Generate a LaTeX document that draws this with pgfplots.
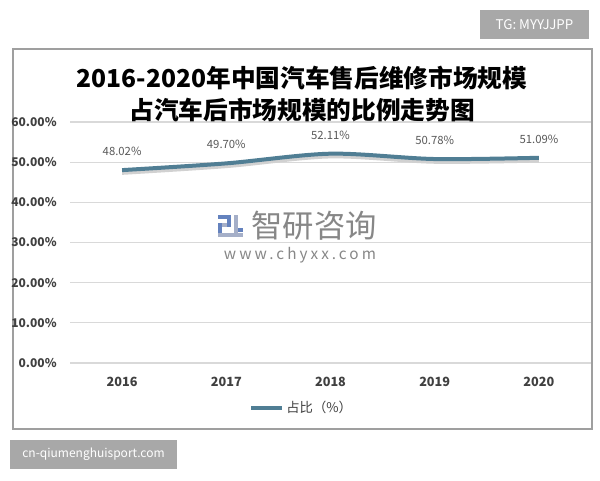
\documentclass[border=0pt]{standalone}
\usepackage{fontspec}
\setmainfont{Noto Sans CJK SC}
\usepackage{pgfplots}
\pgfplotsset{compat=1.18}
\definecolor{linec}{RGB}{80,126,148}
\definecolor{gridc}{RGB}{217,217,217}
\definecolor{tickc}{RGB}{64,64,64}
\definecolor{labc}{RGB}{89,89,89}
\definecolor{boxg}{RGB}{168,168,168}
\definecolor{wmg}{RGB}{135,135,135}
\definecolor{logob}{RGB}{100,130,190}
\definecolor{logog}{RGB}{165,175,200}
\begin{document}
\begin{tikzpicture}[x=0.75pt,y=0.75pt]
\path[use as bounding box] (0,0) rectangle (600,480);
\fill[white] (0,0) rectangle (600,480);
\draw[gray!75, line width=0.9pt] (13,431) rectangle (592,51);
% top-right box
\fill[boxg] (480,470) rectangle (589,441);
\node[white, font=\fontsize{10}{12}\selectfont] at (534.5,455.5) {TG: MYYJJPP};
% bottom-left box
\fill[boxg] (10,40) rectangle (177,11);
\node[white, font=\fontsize{9}{11}\selectfont] at (93.5,25.5) {cn-qiumenghuisport.com};
% watermark
\fill[logob] (218,265) rectangle (231,261);
\fill[logob] (227,261) rectangle (231,253);
\fill[logob] (218,257) rectangle (222,243);
\fill[logog] (222,257) rectangle (227,253);
\fill[logog] (234,265) rectangle (238,243);
\fill[logob] (238,252) rectangle (243,248);
\fill[logog] (218,247) rectangle (243,243);
\node[wmg, font=\fontsize{23.5}{26}\selectfont] at (314,254) {智研咨询};
\node[wmg, font=\fontsize{11.5}{13}\selectfont\addfontfeatures{LetterSpace=20}] at (300,225) {www.chyxx.com};
\begin{axis}[
  at={(52.5pt,268.5pt)}, anchor=north west, scale only axis,
  width=390.75pt, height=180.75pt,
  xmin=-0.5, xmax=4.5, ymin=0, ymax=60,
  axis line style={draw=none}, tick style={draw=none},
  ymajorgrids, grid style={draw=gridc, line width=0.8pt},
  ytick={0,10,20,30,40,50,60},
  yticklabel={\pgfmathprintnumber[fixed,fixed zerofill,precision=2]{\tick}\%},
  xtick={0,1,2,3,4}, xticklabels={2016,2017,2018,2019,2020},
  /pgf/number format/assume math mode=true,
  yticklabel style={font=\bfseries\fontsize{9}{10}\selectfont, color=tickc, xshift=-6.5pt},
  xticklabel style={font=\bfseries\fontsize{9.5}{11}\selectfont, color=tickc, yshift=-7pt},
  legend style={at={(0.445,-0.187)}, anchor=center, draw=none, fill=none,
    font=\fontsize{10}{12}\selectfont, text=tickc, inner sep=0pt,
    /tikz/every even column/.append style={column sep=0pt}},
  legend image code/.code={\draw[line width=3pt, linec] (0pt,0pt) -- (23pt,0pt);},
  clip=false,
]
\addplot[smooth, line width=3.5pt, color=black!18, yshift=-1.8pt, forget plot]
  coordinates {(0,48.02) (1,49.70) (2,52.11) (3,50.78) (4,51.09)};
\addplot[smooth, line width=3pt, color=linec,
  nodes near coords={\pgfmathprintnumber[fixed,fixed zerofill,precision=2]{\pgfplotspointmeta}\%},
  nodes near coords style={font=\fontsize{8.5}{10}\selectfont, color=labc, yshift=6pt}]
  coordinates {(0,48.02) (1,49.70) (2,52.11) (3,50.78) (4,51.09)};
\addlegendentry{占比（\%）}
\end{axis}
\node[font=\bfseries\fontsize{18.5}{24}\selectfont, align=center, inner sep=0pt] at (302,386) {2016-2020年中国汽车售后维修市场规模\\占汽车后市场规模的比例走势图};
\end{tikzpicture}
\end{document}
